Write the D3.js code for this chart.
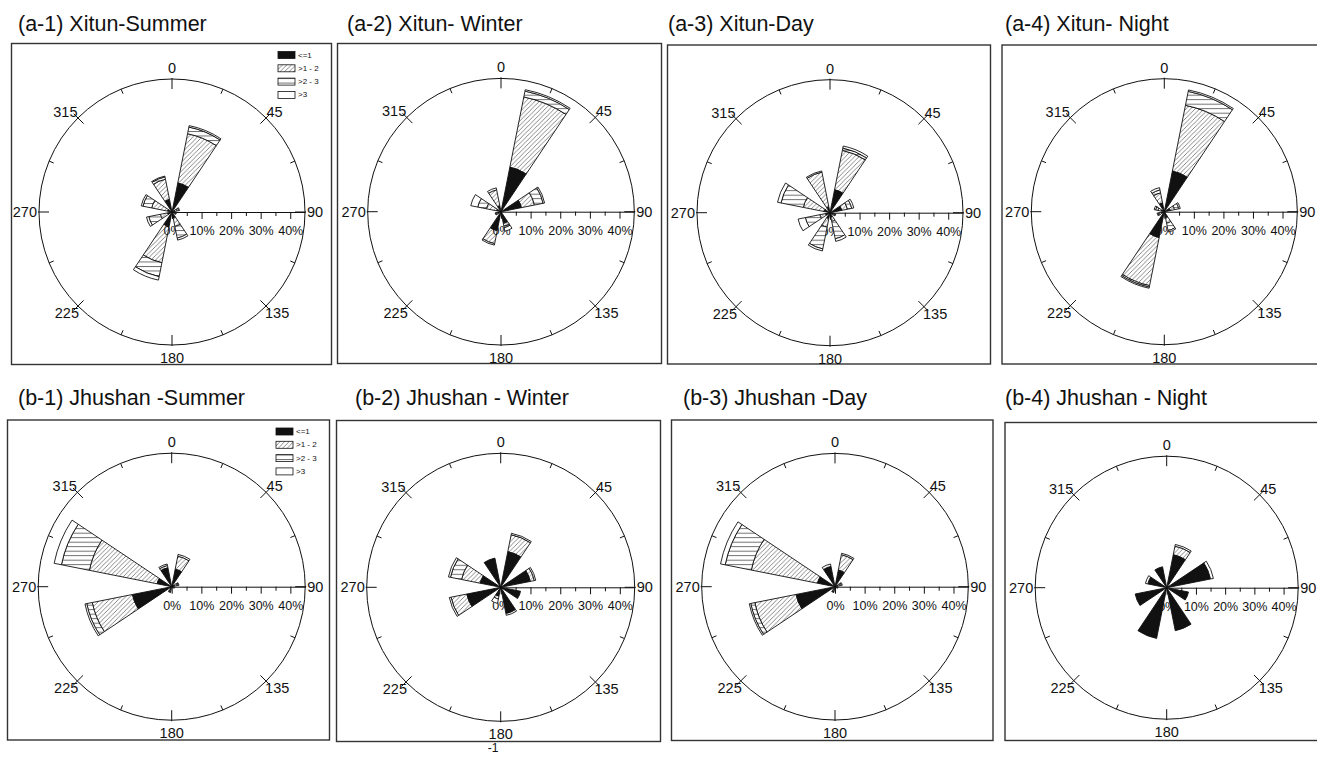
<!DOCTYPE html>
<html>
<head>
<meta charset="utf-8">
<script src="https://cdn.jsdelivr.net/npm/d3@7"></script>
<style>
  body { margin: 0; background: #fff; }
  svg { display: block; }
  text { font-family: "Liberation Sans", Arial, Helvetica, sans-serif; fill: #111; }
</style>
</head>
<body>
<svg id="chart" width="1317" height="760"></svg>
<script>
// ---- data -------------------------------------------------------------
// 16 compass sectors (degrees, clockwise from north)
const directions = d3.range(16).map(i => i * 22.5);
// wind-speed classes (m/s)
const speedClasses = ["<=1", ">1 - 2", ">2 - 3", ">3"];
const compassLabels = [0, 45, 90, 135, 180, 225, 270, 315];
const percentLabels = [0, 10, 20, 30, 40];
const maxPercent = 45;

// frequency (%) for each speed class (rows) and each sector (columns)
const xitunSummer = [
  [0, 10,   0, 1.0, 0, 0.5, 0, 2.0, 0, 5.0,  0, 1.5, 0, 1.5, 0, 4.3],
  [0, 17,   0, 0.8, 0, 0.5, 0, 3.0, 0, 12.5, 0, 2.5, 0, 5.5, 0, 7.0],
  [0, 2.3,  0, 0.5, 0, 0.3, 0, 4.0, 0, 4.8,  0, 4.0, 0, 3.0, 0, 0.8],
  [0, 0.5,  0, 0.3, 0, 0.2, 0, 0.7, 0, 1.2,  0, 0.8, 0, 0.6, 0, 0.3]
];
const xitunWinter = [
  [0, 15.3, 0, 7.0, 0, 0, 0, 4.0, 0, 6.5, 0, 1.0, 0, 1.5, 0, 2.0],
  [0, 24.2, 0, 4.5, 0, 0, 0, 1.0, 0, 4.5, 0, 0.5, 0, 3.5, 0, 5.5],
  [0, 2.0,  0, 3.0, 0, 0, 0, 0.5, 0, 0,   0, 0.3, 0, 3.0, 0, 0],
  [0, 0.5,  0, 0.5, 0, 0, 0, 1.2, 0, 0.5, 0, 0.2, 0, 2.4, 0, 0.7]
];
const xitunDay = [
  [0, 7.9,  0, 4.0, 0, 1.0, 0, 1.5, 0, 2.0, 0, 1.5, 0, 2.0, 0, 2.0],
  [0, 13.6, 0, 2.0, 0, 0.5, 0, 1.5, 0, 3.0, 0, 2.0, 0, 7.2, 0, 12.0],
  [0, 0.8,  0, 1.5, 0, 0.3, 0, 6.0, 0, 7.5, 0, 5.0, 0, 7.7, 0, 0],
  [0, 0.7,  0, 0.7, 0, 0.2, 0, 0.9, 0, 0.7, 0, 2.5, 0, 1.2, 0, 0.4]
];
const xitunNight = [
  [0, 14.0, 0, 2.0, 0, 0, 0, 2.0, 0, 8.9,  0, 1.0, 0, 1.0, 0, 3.0],
  [0, 22.7, 0, 1.5, 0, 0, 0, 2.0, 0, 16.6, 0, 0.8, 0, 1.2, 0, 3.5],
  [0, 4.8,  0, 1.5, 0, 0, 0, 2.5, 0, 0.5,  0, 0.4, 0, 0.8, 0, 1.0],
  [0, 0.5,  0, 0.5, 0, 0, 0, 0.5, 0, 0.4,  0, 0.3, 0, 0.5, 0, 0.8]
];
const jhushanSummer = [
  [0, 6.0, 0, 1.0, 0, 0.5, 0, 0, 0, 1.0, 0, 13.5, 0, 5.0,  0, 6.5],
  [0, 4.5, 0, 0.8, 0, 0.3, 0, 0, 0, 0.5, 0, 13.8, 0, 23.3, 0, 0.8],
  [0, 0,   0, 0.4, 0, 0,   0, 0, 0, 0.3, 0, 1.9,  0, 9.6,  0, 0],
  [0, 0.6, 0, 0.3, 0, 0.2, 0, 0, 0, 0.2, 0, 0.6,  0, 2.5,  0, 0.5]
];
const jhushanWinter = [
  [0, 12.2, 0, 10.1, 0, 6.8, 0, 9.0, 0, 3.0, 0, 11.6, 0, 7.0, 0, 10.0],
  [0, 5.8,  0, 1.4,  0, 0,   0, 0,   0, 1.0, 0, 5.4,  0, 6.4, 0, 0],
  [0, 0,    0, 0,    0, 0,   0, 0,   0, 0,   0, 0,    0, 3.8, 0, 0],
  [0, 0.5,  0, 0.5,  0, 0,   0, 0.6, 0, 1.5, 0, 0.6,  0, 0.7, 0, 0]
];
const jhushanDay = [
  [0, 5.7, 0, 1.0, 0, 0.5, 0, 0, 0, 1.0, 0, 13.4, 0, 6.0,  0, 7.0],
  [0, 5.3, 0, 0.8, 0, 0.3, 0, 0, 0, 0.5, 0, 14.2, 0, 22.8, 0, 0],
  [0, 0,   0, 0.4, 0, 0,   0, 0, 0, 0.3, 0, 1.4,  0, 9.0,  0, 0],
  [0, 0.5, 0, 0.3, 0, 0.2, 0, 0, 0, 0.2, 0, 0.5,  0, 1.6,  0, 0.8]
];
const jhushanNight = [
  [0, 11.5, 0, 15.3, 0, 7.6, 0, 15.0, 0, 17.7, 0, 11.0, 0, 6.6, 0, 7.3],
  [0, 3.0,  0, 0,    0, 0,   0, 0,    0, 0,    0, 0,    0, 0,   0, 0],
  [0, 0,    0, 0,    0, 0,   0, 0,    0, 0,    0, 0,    0, 0,   0, 0],
  [0, 0.6,  0, 1.0,  0, 0,   0, 0,    0, 0,    0, 0,    0, 0.8, 0, 0]
];

const panelTitles = [
  "(a-1) Xitun-Summer", "(a-2) Xitun- Winter", "(a-3) Xitun-Day", "(a-4) Xitun- Night",
  "(b-1) Jhushan -Summer", "(b-2) Jhushan - Winter", "(b-3) Jhushan -Day", "(b-4) Jhushan - Night"
];
const panelData = [xitunSummer, xitunWinter, xitunDay, xitunNight,
                   jhushanSummer, jhushanWinter, jhushanDay, jhushanNight];
const panelHasLegend = [true, false, false, false, true, false, false, false];

// ---- layout -----------------------------------------------------------
const layout = [
  { tx: 18,   ty: 31,  box: [11.5, 43.5, 331.5, 364.5],  cx: 172,    cy: 212,   r: 133 },
  { tx: 347,  ty: 31,  box: [337.5, 43.5, 661.5, 363.5], cx: 501,    cy: 211.7, r: 133.3 },
  { tx: 668,  ty: 31,  box: [667.5, 45, 990.5, 364],     cx: 830,    cy: 212.7, r: 133 },
  { tx: 1005, ty: 31,  box: [1002, 45, 1330, 364],       cx: 1164.3, cy: 211.7, r: 133 },
  { tx: 18,   ty: 405, box: [7.5, 420, 329.5, 740],      cx: 171.7,  cy: 586.7, r: 133.5 },
  { tx: 355,  ty: 405, box: [336.5, 420.5, 660.5, 741.5],cx: 500.7,  cy: 587.3, r: 134 },
  { tx: 683,  ty: 405, box: [671.5, 420, 993, 740.5],    cx: 835,    cy: 586.7, r: 133.3 },
  { tx: 1005, ty: 405, box: [1005, 422.5, 1330, 740.5],  cx: 1166.7, cy: 587.7, r: 131.5 }
];

const sectorWidth = 22.5;
const rad = Math.PI / 180;

const svg = d3.select("#chart");

// fill patterns for the speed classes
const defs = svg.append("defs");
const hatch = defs.append("pattern").attr("id", "hatch")
  .attr("patternUnits", "userSpaceOnUse").attr("width", 4.5).attr("height", 4.5);
hatch.append("path").attr("d", "M-1,1 L1,-1 M0,4.5 L4.5,0 M3.5,5.5 L5.5,3.5")
  .attr("stroke", "#555").attr("stroke-width", 0.7);
const hlines = defs.append("pattern").attr("id", "hlines")
  .attr("patternUnits", "userSpaceOnUse").attr("width", 6).attr("height", 4.5);
hlines.append("rect").attr("width", 6).attr("height", 4.5).attr("fill", "#fff");
hlines.append("path").attr("d", "M0,0.5 L6,0.5").attr("stroke", "#444").attr("stroke-width", 0.8);

const classFill = d3.scaleOrdinal()
  .domain(speedClasses)
  .range(["#111", "url(#hatch)", "url(#hlines)", "#fff"]);

panelTitles.forEach((title, p) => {
  const L = layout[p];
  const data = panelData[p];
  const [x0, y0, x1, y1] = L.box;

  svg.append("text").attr("x", L.tx).attr("y", L.ty)
    .attr("font-size", 21.5).text(title);

  svg.append("rect").attr("x", x0).attr("y", y0)
    .attr("width", x1 - x0).attr("height", y1 - y0)
    .attr("fill", "none").attr("stroke", "#333").attr("stroke-width", 1.4);

  const g = svg.append("g").attr("transform", `translate(${L.cx},${L.cy})`);
  const rScale = d3.scaleLinear().domain([0, maxPercent]).range([0, L.r]);

  // outer circle
  g.append("circle").attr("r", L.r).attr("fill", "none")
    .attr("stroke", "#111").attr("stroke-width", 1);

  // compass ticks every 22.5 degrees
  g.selectAll("line.ct").data(directions).join("line")
    .attr("class", "ct")
    .each(function (a) {
      let r0, r1;
      if (a % 90 === 0) { r0 = L.r - 10; r1 = L.r + 1; }
      else if (a % 45 === 0) { r0 = L.r - 8; r1 = L.r + 6; }
      else { r0 = L.r - 5; r1 = L.r; }
      const s = Math.sin(a * rad), c = -Math.cos(a * rad);
      d3.select(this).attr("x1", r0 * s).attr("y1", r0 * c)
        .attr("x2", r1 * s).attr("y2", r1 * c);
    })
    .attr("stroke", "#111").attr("stroke-width", 1);

  // compass labels
  const k = L.r * Math.SQRT1_2;
  const labelPos = {
    0:   { x: 0, y: -L.r - 6, anchor: "middle" },
    45:  { x: k + 0.5, y: -k - 1, anchor: "start" },
    90:  { x: L.r + 2, y: 5, anchor: "start" },
    135: { x: k - 1, y: k + 12, anchor: "start" },
    180: { x: 0, y: L.r + 18, anchor: "middle" },
    225: { x: -k + 1, y: k + 12, anchor: "end" },
    270: { x: -L.r - 2, y: 5, anchor: "end" },
    315: { x: -k - 0.5, y: -k - 1, anchor: "end" }
  };
  g.selectAll("text.cl").data(compassLabels).join("text")
    .attr("class", "cl")
    .attr("x", d => labelPos[d].x).attr("y", d => labelPos[d].y)
    .attr("text-anchor", d => labelPos[d].anchor)
    .attr("font-size", 14.5).text(d => d);

  // radial percentage axis along the east direction
  const minorAxis = d3.axisBottom(rScale)
    .tickValues(d3.range(5, maxPercent, 10))
    .tickSize(4).tickSizeOuter(0).tickFormat("");
  const ga = g.append("g").call(minorAxis);
  ga.select(".domain").remove();

  const majorAxis = d3.axisBottom(rScale)
    .tickValues(percentLabels)
    .tickSize(7).tickSizeOuter(0).tickPadding(7)
    .tickFormat(d => d + "%");
  const gb = g.append("g").call(majorAxis);
  gb.selectAll("text").attr("font-size", 12.5).attr("font-family", null).attr("fill", "#111");
  gb.selectAll("line, path").attr("stroke", "#111");
  g.selectAll(".tick line").attr("stroke", "#111");

  // petals: stacked speed classes per sector
  const arc = d3.arc();
  const stacks = [];
  directions.forEach((dir, j) => {
    let cum = 0;
    speedClasses.forEach((cls, i) => {
      const v = data[i][j];
      if (v > 0) {
        stacks.push({ dir, cls, inner: cum, outer: cum + v });
      }
      cum += v;
    });
  });
  g.selectAll("path.petal").data(stacks).join("path")
    .attr("class", "petal")
    .attr("d", d => arc({
      innerRadius: rScale(d.inner),
      outerRadius: rScale(d.outer),
      startAngle: (d.dir - sectorWidth / 2) * rad,
      endAngle: (d.dir + sectorWidth / 2) * rad
    }))
    .attr("fill", d => classFill(d.cls))
    .attr("stroke", "#111").attr("stroke-width", 0.9)
    .attr("stroke-linejoin", "miter");

  // legend
  if (panelHasLegend[p]) {
    const lg = svg.append("g").attr("transform", `translate(${x1 - 53.5},${y0 + 8})`);
    const item = lg.selectAll("g").data(speedClasses).join("g")
      .attr("transform", (d, i) => `translate(0,${i * 13.3})`);
    item.append("rect").attr("width", 17).attr("height", 7)
      .attr("fill", d => classFill(d)).attr("stroke", "#111").attr("stroke-width", 0.8);
    item.append("text").attr("x", 20).attr("y", 6).attr("font-size", 8).text(d => d);
  }
});

svg.append("text").attr("x", 493).attr("y", 752).attr("text-anchor", "middle")
  .attr("font-size", 12).text("-1");
</script>
</body>
</html>
